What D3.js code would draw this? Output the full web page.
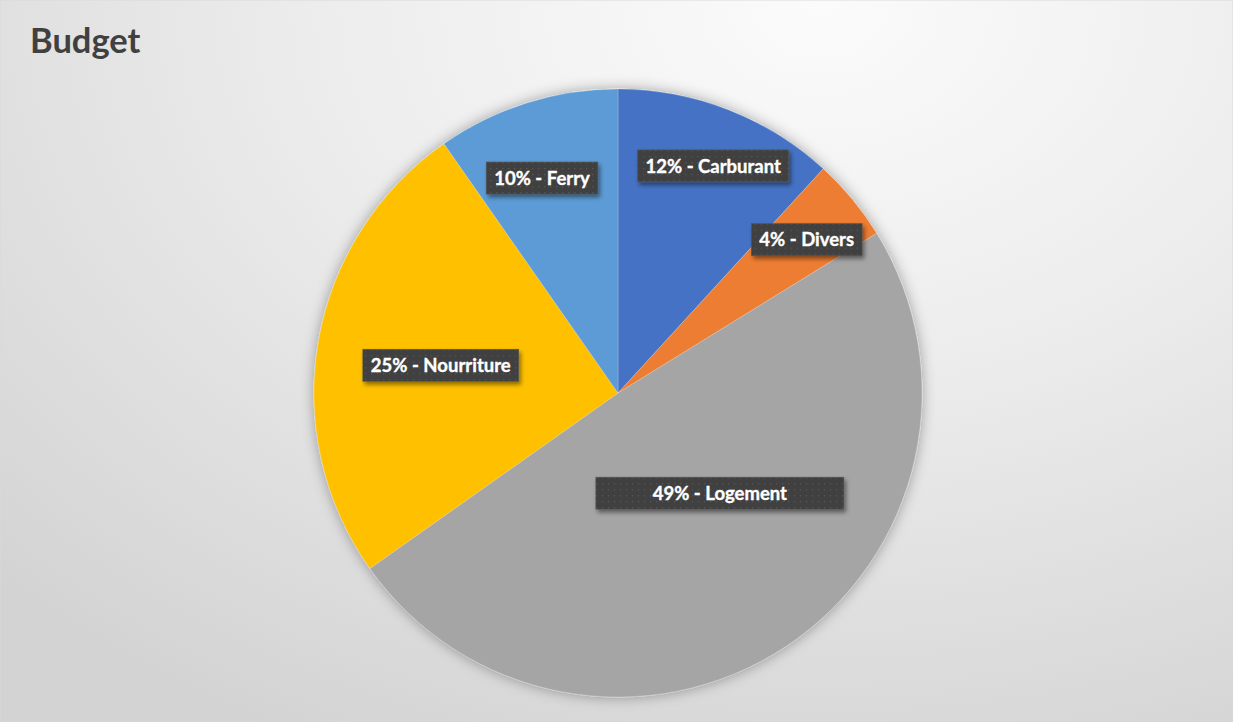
<!DOCTYPE html>
<html>
<head>
<meta charset="utf-8">
<script src="https://cdn.jsdelivr.net/npm/d3@7"></script>
<style>
  html, body { margin: 0; padding: 0; background: #fff; }
  svg { display: block; }
</style>
</head>
<body>
<svg id="chart" width="1233" height="722"></svg>
<script>
// ---- data ----
const title = "Budget";
const categories = ["Carburant", "Divers", "Logement", "Nourriture", "Ferry"];
const values = [11.8, 4.4, 49.0, 25.1, 9.7];
const colors = ["#4472C4", "#ED7D31", "#A5A5A5", "#FFC000", "#5B9BD5"];

// ---- layout ----
const W = 1233, H = 722;
const cx = 618, cy = 393, R = 304;
const labelRadius = [0.81, 0.80, 0.47, 0.59, 0.75];   // fraction of radius
const labelShiftDeg = [1.5, 0.5, -12, -1, -2];        // angular nudge
const labelMinWidth = [0, 0, 248, 0, 0];

const svg = d3.select("#chart");
const defs = svg.append("defs");

// background gradient
const bg = defs.append("radialGradient")
  .attr("id", "bg").attr("gradientUnits", "userSpaceOnUse")
  .attr("cx", 0).attr("cy", 0).attr("r", 1)
  .attr("gradientTransform", "translate(820,10) scale(1150,820)");
bg.append("stop").attr("offset", 0).attr("stop-color", "#fbfbfb");
bg.append("stop").attr("offset", 0.45).attr("stop-color", "#ececec");
bg.append("stop").attr("offset", 1).attr("stop-color", "#d3d3d3");

// pie shadow
const sh = defs.append("filter").attr("id", "pieShadow")
  .attr("x", "-20%").attr("y", "-20%").attr("width", "140%").attr("height", "140%");
sh.append("feDropShadow").attr("dx", 0).attr("dy", 0)
  .attr("stdDeviation", 7).attr("flood-color", "#000").attr("flood-opacity", 0.35);

// label shadow
const ls = defs.append("filter").attr("id", "lblShadow")
  .attr("x", "-20%").attr("y", "-40%").attr("width", "140%").attr("height", "180%");
ls.append("feDropShadow").attr("dx", 2).attr("dy", 3)
  .attr("stdDeviation", 2).attr("flood-color", "#000").attr("flood-opacity", 0.45);

// dotted pattern for label boxes
const pat = defs.append("pattern").attr("id", "dots")
  .attr("patternUnits", "userSpaceOnUse").attr("width", 6).attr("height", 6);
pat.append("rect").attr("width", 6).attr("height", 6).attr("fill", "#3f3f3f");
pat.append("rect").attr("x", 2).attr("y", 2).attr("width", 1.3).attr("height", 1.3).attr("fill", "#585858");

svg.append("rect").attr("width", W).attr("height", H).attr("fill", "url(#bg)")
  .attr("stroke", "#d9d9d9").attr("stroke-width", 1);

svg.append("text")
  .attr("x", 30).attr("y", 53)
  .attr("font-family", "Lato, 'Open Sans', sans-serif")
  .attr("font-weight", 700).attr("font-size", 34.5)
  .attr("fill", "#404040")
  .text(title);

const data = categories.map((c, i) => ({ cat: c, value: values[i], color: colors[i], i }));
const pie = d3.pie().value(d => d.value).sort(null);
const arcs = pie(data);
const arc = d3.arc().innerRadius(0).outerRadius(R);

const g = svg.append("g").attr("transform", `translate(${cx},${cy})`);
g.append("g").attr("filter", "url(#pieShadow)")
  .selectAll("path").data(arcs).join("path")
  .attr("d", arc)
  .attr("fill", d => d.data.color)
  .attr("stroke", "#ffffff").attr("stroke-width", 0.6).attr("stroke-opacity", 0.35);

const total = d3.sum(values);
const fmt = d3.format(".0%");

const lg = g.append("g");
arcs.forEach((a, i) => {
  const mid = (a.startAngle + a.endAngle) / 2 + labelShiftDeg[i] * Math.PI / 180;
  const r = R * labelRadius[i];
  const x = r * Math.sin(mid), y = -r * Math.cos(mid);
  const grp = lg.append("g").attr("transform", `translate(${x},${y})`);
  const box = grp.append("rect").attr("fill", "url(#dots)").attr("filter", "url(#lblShadow)")
    .attr("stroke", "#555").attr("stroke-width", 0.6);
  const t = grp.append("text")
    .attr("text-anchor", "middle").attr("dy", "0.36em")
    .attr("font-family", "Lato, 'Open Sans', sans-serif")
    .attr("font-weight", 700).attr("font-size", 18.5)
    .attr("stroke", "#ffffff").attr("stroke-width", 0.35)
    .attr("fill", "#ffffff")
    .text(`${fmt(a.data.value / total)} - ${a.data.cat}`);
  const w = Math.max(t.node().getComputedTextLength() + 16, labelMinWidth[i]);
  const h = 32;
  box.attr("x", -w / 2).attr("y", -h / 2).attr("width", w).attr("height", h);
});
</script>
</body>
</html>
